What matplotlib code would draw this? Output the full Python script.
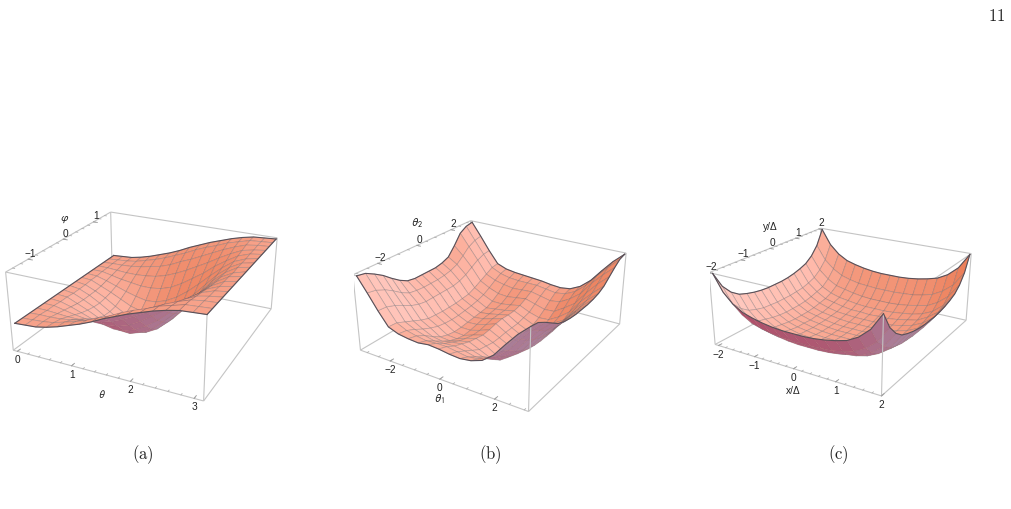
import numpy as np, matplotlib
matplotlib.use('Agg')
import matplotlib.pyplot as plt
from mpl_toolkits.mplot3d import proj3d
W,H=1012,509
plt.rcParams['font.family']=['Liberation Sans','DejaVu Sans']
fig=plt.figure(figsize=(W/100,H/100),dpi=100)

# Heights as percent of box height.
# Panel (a): rows theta 0..pi, columns phi from -pi/2 to 0 (the right half mirrors it).
heights_a_half=[
[37,37,37,37,37,37,37,37,37],
[38,38,38,37,37,36,36,35,35],
[39,39,38,36,34,32,30,29,29],
[42,41,39,35,31,27,24,22,21],
[46,45,41,35,29,22,17,13,12],
[51,49,44,36,27,18,10,5,3],
[56,54,47,38,27,15,6,1,0],
[62,60,52,42,29,16,5,0,0],
[69,66,59,48,34,21,10,3,0],
[75,73,65,55,42,29,18,11,9],
[81,79,72,63,52,40,31,24,22],
[86,84,79,71,62,53,45,40,38],
[91,90,86,80,74,67,61,58,57],
[95,94,92,88,84,80,77,75,74],
[98,98,97,95,93,91,89,88,88],
[99,99,99,98,98,97,97,97,96],
[100,100,100,100,100,100,100,100,100]]
# Panel (b): rows theta1 -pi..pi, columns theta2 -pi..pi.
heights_b=[
[100,98,92,85,76,68,62,60,60,60,60,62,66,78,92,98,100],
[82,80,75,68,60,54,52,51,51,51,52,54,58,66,75,80,82],
[63,62,58,52,46,42,40,40,40,40,40,42,46,52,58,62,63],
[46,45,40,35,30,26,25,24,24,24,25,26,30,35,40,45,46],
[41,39,34,28,23,19,17,16,16,17,18,20,23,28,34,39,41],
[39,36,30,22,15,11,9,9,10,11,12,13,17,23,31,36,39],
[38,34,27,20,14,10,8,9,11,13,14,15,17,22,29,35,38],
[40,35,28,23,18,15,13,13,15,17,17,17,19,24,30,35,37],
[39,35,29,25,21,19,17,18,20,21,20,20,22,26,31,35,36],
[37,33,27,21,15,13,11,11,12,12,12,14,16,22,28,33,34],
[36,31,24,17,9,5,4,4,4,5,6,8,12,18,25,31,33],
[38,33,26,18,10,6,5,4,4,5,7,9,13,19,27,33,35],
[43,40,34,27,20,16,15,14,14,15,16,18,21,28,35,40,42],
[54,52,46,38,32,27,25,24,24,24,25,27,32,38,46,52,54],
[71,69,64,56,50,46,43,43,43,43,43,46,50,56,64,69,71],
[87,84,79,72,65,61,59,58,58,58,59,61,65,72,79,84,87],
[100,98,92,85,78,74,72,71,71,71,72,74,78,85,92,98,100]]
# Panel (c): rows |x/D| 0..2, columns |y/D| 0..2 (the other quadrants mirror it).
heights_c_quad=[
[0,0,1,3,5,9,16,28,47],
[0,0,1,3,6,9,16,28,47],
[1,1,2,4,6,10,17,29,48],
[3,3,4,5,8,12,19,30,50],
[5,6,6,8,11,14,22,33,53],
[9,9,10,12,14,18,25,37,57],
[16,16,17,19,22,25,33,45,65],
[28,28,29,30,33,37,45,57,78],
[47,47,48,50,53,57,65,78,100]]

theta_grid=np.linspace(0,np.pi,17)
phi_grid=np.linspace(-np.pi/2,np.pi/2,17)
theta12_grid=np.linspace(-np.pi,np.pi,17)
xy_grid=np.linspace(-2,2,17)
a_half=np.array(heights_a_half)/100
Za=np.hstack([a_half,a_half[:,-2::-1]])
Zb=np.array(heights_b)/100
q=np.array(heights_c_quad)/100
q2=np.vstack([q[::-1],q[1:]])
Zc=np.hstack([q2[:,::-1],q2[:,1:]])

ticks_a=([0,1,2,3],[-1,0,1])
ticks_b=([-2,0,2],[-2,0,2])
ticks_c=([-2,-1,0,1,2],[-2,-1,0,1,2])

def panel(x,y,Z,cx,cy,S,za,xt,yt,xm,ym,el,azd,px0=.025,py1=.02):
    f=.438
    rect=[(cx-.5135*S)/W,(H-cy-.5135*S)/H,S/W,S/H]
    ax=fig.add_axes(rect,projection='3d',computed_zorder=False)
    ax.set_axis_off();ax.patch.set_alpha(0)
    ax.set_box_aspect((1,1,za))
    ax.view_init(elev=el,azim=azd)
    ax.set_proj_type('persp',focal_length=f)
    x0=x[0]-px0*(x[-1]-x[0]);x1=x[-1];y0=y[0];y1=y[-1]+py1*(y[-1]-y[0]);z0,z1=0,1
    ax.set_xlim(x0,x1,view_margin=0);ax.set_ylim(y0,y1,view_margin=0);ax.set_zlim(z0,z1,view_margin=0)
    M=ax.get_proj()
    X,Y=np.meshgrid(x,y,indexing='ij')
    px,py,_=proj3d.proj_transform(X.ravel(),Y.ravel(),Z.ravel(),M)
    px=px.reshape(X.shape);py=py.reshape(X.shape)
    az=np.radians(azd)
    right=np.array([-np.sin(az),np.cos(az),0])
    xs=(X-x0)/(x1-x0);ys=(Y-y0)/(y1-y0);zs=Z*za
    m,n=X.shape
    fc=np.zeros((m,n,4));ec=[]
    for i in range(m-1):
        for j in range(n-1):
            qx=[px[i,j],px[i+1,j],px[i+1,j+1],px[i,j+1]];qy=[py[i,j],py[i+1,j],py[i+1,j+1],py[i,j+1]]
            area=sum(qx[k]*qy[(k+1)%4]-qx[(k+1)%4]*qy[k] for k in range(4))
            d1=np.array([xs[i+1,j+1]-xs[i,j],ys[i+1,j+1]-ys[i,j],zs[i+1,j+1]-zs[i,j]])
            d2=np.array([xs[i,j+1]-xs[i+1,j],ys[i,j+1]-ys[i+1,j],zs[i,j+1]-zs[i+1,j]])
            N=np.cross(d1,d2);N/=np.linalg.norm(N)
            nx=N@right
            if area>0:
                col=np.array([248+14*nx,165+42*nx,142+58*nx])
                ec.append((.33,.33,.36,.30))
            else:
                col=np.array([172+5*nx,104-42*nx,130-42*nx])
                ec.append((.33,.3,.36,.08))
            fc[i,j,:3]=np.clip(col,0,255)/255;fc[i,j,3]=1
    def L(a,b,zo):
        ax.plot([a[0],b[0]],[a[1],b[1]],[a[2],b[2]],color='#c4c4c4',lw=.8,zorder=zo,solid_capstyle='butt')
    for a,b in [((x0,y0,z1),(x1,y0,z1)),((x1,y0,z1),(x1,y1,z1)),((x1,y1,z1),(x0,y1,z1)),((x0,y1,z1),(x0,y0,z1)),
                ((x0,y1,z0),(x0,y1,z1)),((x0,y1,z0),(x0,y0,z0)),((x0,y1,z0),(x1,y1,z0))]:
        L(a,b,1)
    s=ax.plot_surface(X,Y,Z,rstride=1,cstride=1,facecolors=fc,shade=False,linewidth=.55,zorder=2,antialiased=True)
    s.set_edgecolor(ec)
    for a,b in [((x0,y0,z0),(x1,y0,z0)),((x1,y0,z0),(x1,y1,z0)),((x0,y0,z0),(x0,y0,z1)),((x1,y0,z0),(x1,y0,z1)),((x1,y1,z0),(x1,y1,z1))]:
        L(a,b,3)
    for e2 in [(X[0],Y[0],Z[0]),(X[-1],Y[-1],Z[-1]),(X[:,0],Y[:,0],Z[:,0]),(X[:,-1],Y[:,-1],Z[:,-1])]:
        ax.plot(*e2,color='#5a5058',lw=.8,zorder=4)
    dy=.012*(y1-y0);dx=.012*(x1-x0)
    for v in xm:
        ax.plot([v,v],[y0,y0+dy],[z0,z0],color='#b0b0b0',lw=.6,zorder=3)
    for v in ym:
        ax.plot([x0,x0+dx],[v,v],[z1,z1],color='#b0b0b0',lw=.6,zorder=1)
    for v in xt:
        ax.plot([v,v],[y0,y0+2*dy],[z0,z0],color='#a0a0a0',lw=.7,zorder=3)
        a,b,_=proj3d.proj_transform(v,y0,z0,M)
        ax.annotate(str(v).replace('-','\u2212'),xy=(a,b),xytext=(0,-6.5),textcoords='offset points',ha='center',va='center',fontsize=7.3,color='#222',annotation_clip=False)
    for v in yt:
        ax.plot([x0,x0+2*dx],[v,v],[z1,z1],color='#a0a0a0',lw=.7,zorder=1)
        a,b,_=proj3d.proj_transform(x0,v,z1,M)
        ax.annotate(str(v).replace('-','\u2212'),xy=(a,b),xytext=(1.5,4),textcoords='offset points',ha='center',va='center',fontsize=7.3,color='#222',annotation_clip=False)
    return ax
panel(theta_grid,phi_grid,Za,150,292,282,.415,*ticks_a,np.arange(0,3.15,.2),np.arange(-1.4,1.41,.2),24.7,-64)
panel(theta12_grid,theta12_grid,Zb,495,301,275,.42,*ticks_b,np.arange(-3,3.01,.5),np.arange(-3,3.01,.5),25.2,-57)
panel(xy_grid,xy_grid,Zc,846,298,265,.40,*ticks_c,np.arange(-2,2.01,.2),np.arange(-2,2.01,.2),21.5,-58)
def T(x,y,s,**k): fig.text(x/W,1-y/H,s,ha='center',va='center',**k)
T(65,219,r'$\varphi$',fontsize=8,math_fontfamily='stixsans',color='#222')
T(102,394,r'$\theta$',fontsize=8,math_fontfamily='stixsans',color='#222')
T(417,223,r'$\theta_2$',fontsize=8.5,math_fontfamily='stixsans',color='#222')
T(439,399,r'$\theta_1$',fontsize=8.5,math_fontfamily='stixsans',color='#222')
T(770,227,'y/\u0394',fontsize=7.3,color='#222')
T(793,391,'x/\u0394',fontsize=7.3,color='#222')
for x,s in [(143,'(a)'),(490,'(b)'),(838,'(c)')]:
    T(x,455,r'$\mathrm{%s}$'%s,fontsize=12,math_fontfamily='cm',color='#222')
T(997,16,r'$\mathrm{11}$',fontsize=12,math_fontfamily='cm',color='#222')
fig.savefig('out.png',dpi=100)
